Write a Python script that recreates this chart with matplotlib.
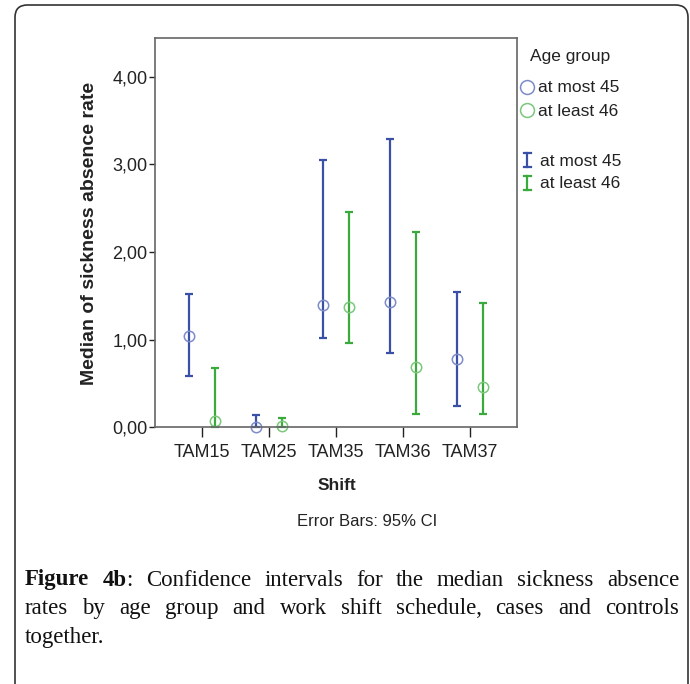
import matplotlib
matplotlib.use("Agg")
import matplotlib.pyplot as plt
from matplotlib.lines import Line2D
from matplotlib.patches import FancyBboxPatch
import numpy as np

# values
shifts = ["TAM15", "TAM25", "TAM35", "TAM36", "TAM37"]
young_median = [1.04, 0.00, 1.40, 1.43, 0.78]
young_low = [0.58, 0.00, 1.02, 0.85, 0.24]
young_high = [1.52, 0.14, 3.05, 3.29, 1.55]
old_median = [0.075, 0.01, 1.37, 0.685, 0.46]
old_low = [0.00, 0.00, 0.965, 0.15, 0.15]
old_high = [0.68, 0.11, 2.46, 2.23, 1.42]
group_labels = ["at most 45", "at least 46"]
yticks = [0, 1, 2, 3, 4]
ytick_labels = ["0,00", "1,00", "2,00", "3,00", "4,00"]

caption_lines = [
    [[("Figure", "bold")], [("4b", "bold"), (":", "normal")], "Confidence", "intervals",
     "for", "the", "median", "sickness", "absence"],
    ["rates", "by", "age", "group", "and", "work", "shift", "schedule,", "cases", "and", "controls"],
    ["together."],
]

BLUE = "#3a4fa6"
GREEN = "#3aaa3c"
BLUE_M = "#7d8cc9"
GREEN_M = "#7cc77c"

W, H = 690, 684
SANS = "Liberation Sans"
SERIF = "Liberation Serif"


def fx(x):
    return x / W


def fy(y):
    return 1 - y / H


fig = plt.figure(figsize=(W / 100, H / 100), dpi=100)

# rounded outer box
box = FancyBboxPatch((fx(15), -0.1), fx(688) - fx(15), fy(5) + 0.1,
                     boxstyle="round,pad=0,rounding_size=0.018",
                     transform=fig.transFigure, fc="none", ec="#333333", lw=1.2)
fig.add_artist(box)

ax = fig.add_axes([fx(155), fy(427.3), (517 - 155) / W, (427.3 - 38.3) / H])
x = np.arange(len(shifts))
off = 0.2


def draw_group(xpos, med, lo, hi, col, mcol):
    med = np.array(med)
    yerr = [med - np.array(lo), np.array(hi) - med]
    ax.errorbar(xpos, med, yerr=yerr, fmt="none", ecolor=col, elinewidth=1.6,
                capsize=3, capthick=1.6, clip_on=False)
    ax.plot(xpos, med, "o", mfc="none", mec=mcol, ms=7.5, mew=1.1, clip_on=False)


draw_group(x - off, young_median, young_low, young_high, BLUE, BLUE_M)
draw_group(x + off, old_median, old_low, old_high, GREEN, GREEN_M)

ax.set_xlim(-0.7, 4.7)
ax.set_ylim(0, 4.44)
ax.set_xticks(x)
ax.set_xticklabels(shifts, fontsize=13, family=SANS)
ax.set_yticks(yticks)
ax.set_yticklabels(ytick_labels, fontsize=13, family=SANS)
ax.tick_params(axis="y", direction="out", length=4.5, width=1, pad=1, colors="#222222")
ax.tick_params(axis="x", direction="out", length=7, width=1, pad=5, colors="#222222")
for sp in ax.spines.values():
    sp.set_color("#666666")
    sp.set_linewidth(1.2)

fig.text(fx(90), fy(233), "Median of sickness absence rate", rotation=90,
         ha="center", va="center", fontsize=14, weight="bold", family=SANS, color="#222222")
fig.text(fx(337), fy(485), "Shift", ha="center", va="center", fontsize=12.5,
         weight="bold", family=SANS, color="#222222")
fig.text(fx(367), fy(521), "Error Bars: 95% CI", ha="center", va="center",
         fontsize=12, family=SANS, color="#222222")

# legend
fig.text(fx(530), fy(57), "Age group", ha="left", va="center", fontsize=12.5,
         family=SANS, color="#222222")
for i, (lab, mcol, col) in enumerate(zip(group_labels, [BLUE_M, GREEN_M], [BLUE, GREEN])):
    yc = 87 + i * 23
    fig.add_artist(Line2D([fx(527)], [fy(yc)], marker="o", ms=10, mfc="none",
                          mec=mcol, mew=1.1, transform=fig.transFigure))
    fig.text(fx(538), fy(yc + 1), lab, ha="left", va="center", fontsize=12.5,
             family=SANS, color="#222222")
    ye = 160 + i * 23
    fig.add_artist(Line2D([fx(527), fx(527)], [fy(ye - 7), fy(ye + 7)], color=col,
                          lw=1.6, transform=fig.transFigure))
    for yy in (ye - 7, ye + 7):
        fig.add_artist(Line2D([fx(523.5), fx(530.5)], [fy(yy), fy(yy)], color=col,
                              lw=1.6, transform=fig.transFigure))
    fig.text(fx(540), fy(ye + 1), lab, ha="left", va="center", fontsize=12.5,
             family=SANS, color="#222222")

# caption, justified like the journal layout
renderer = fig.canvas.get_renderer()
cap_size = 16.5
x0, x1 = 25, 679
for li, words in enumerate(caption_lines):
    yline = 580 + li * 28.5
    groups = []
    widths = []
    for w in words:
        parts = w if isinstance(w, list) else [(w, "normal")]
        cur = 0
        grp = []
        for txt, wt in parts:
            t = fig.text(0, fy(yline), txt, fontsize=cap_size, family=SERIF, weight=wt,
                         ha="left", va="center", color="#111111")
            wd = t.get_window_extent(renderer).width
            grp.append((t, cur))
            cur += wd
        groups.append(grp)
        widths.append(cur)
    last = li == len(caption_lines) - 1
    gap = 5.5 if last else (x1 - x0 - sum(widths)) / (len(words) - 1)
    pos = x0
    for grp, wd in zip(groups, widths):
        for t, dx in grp:
            t.set_x(fx(pos + dx))
        pos += wd + gap

fig.savefig("out.png", dpi=100)
